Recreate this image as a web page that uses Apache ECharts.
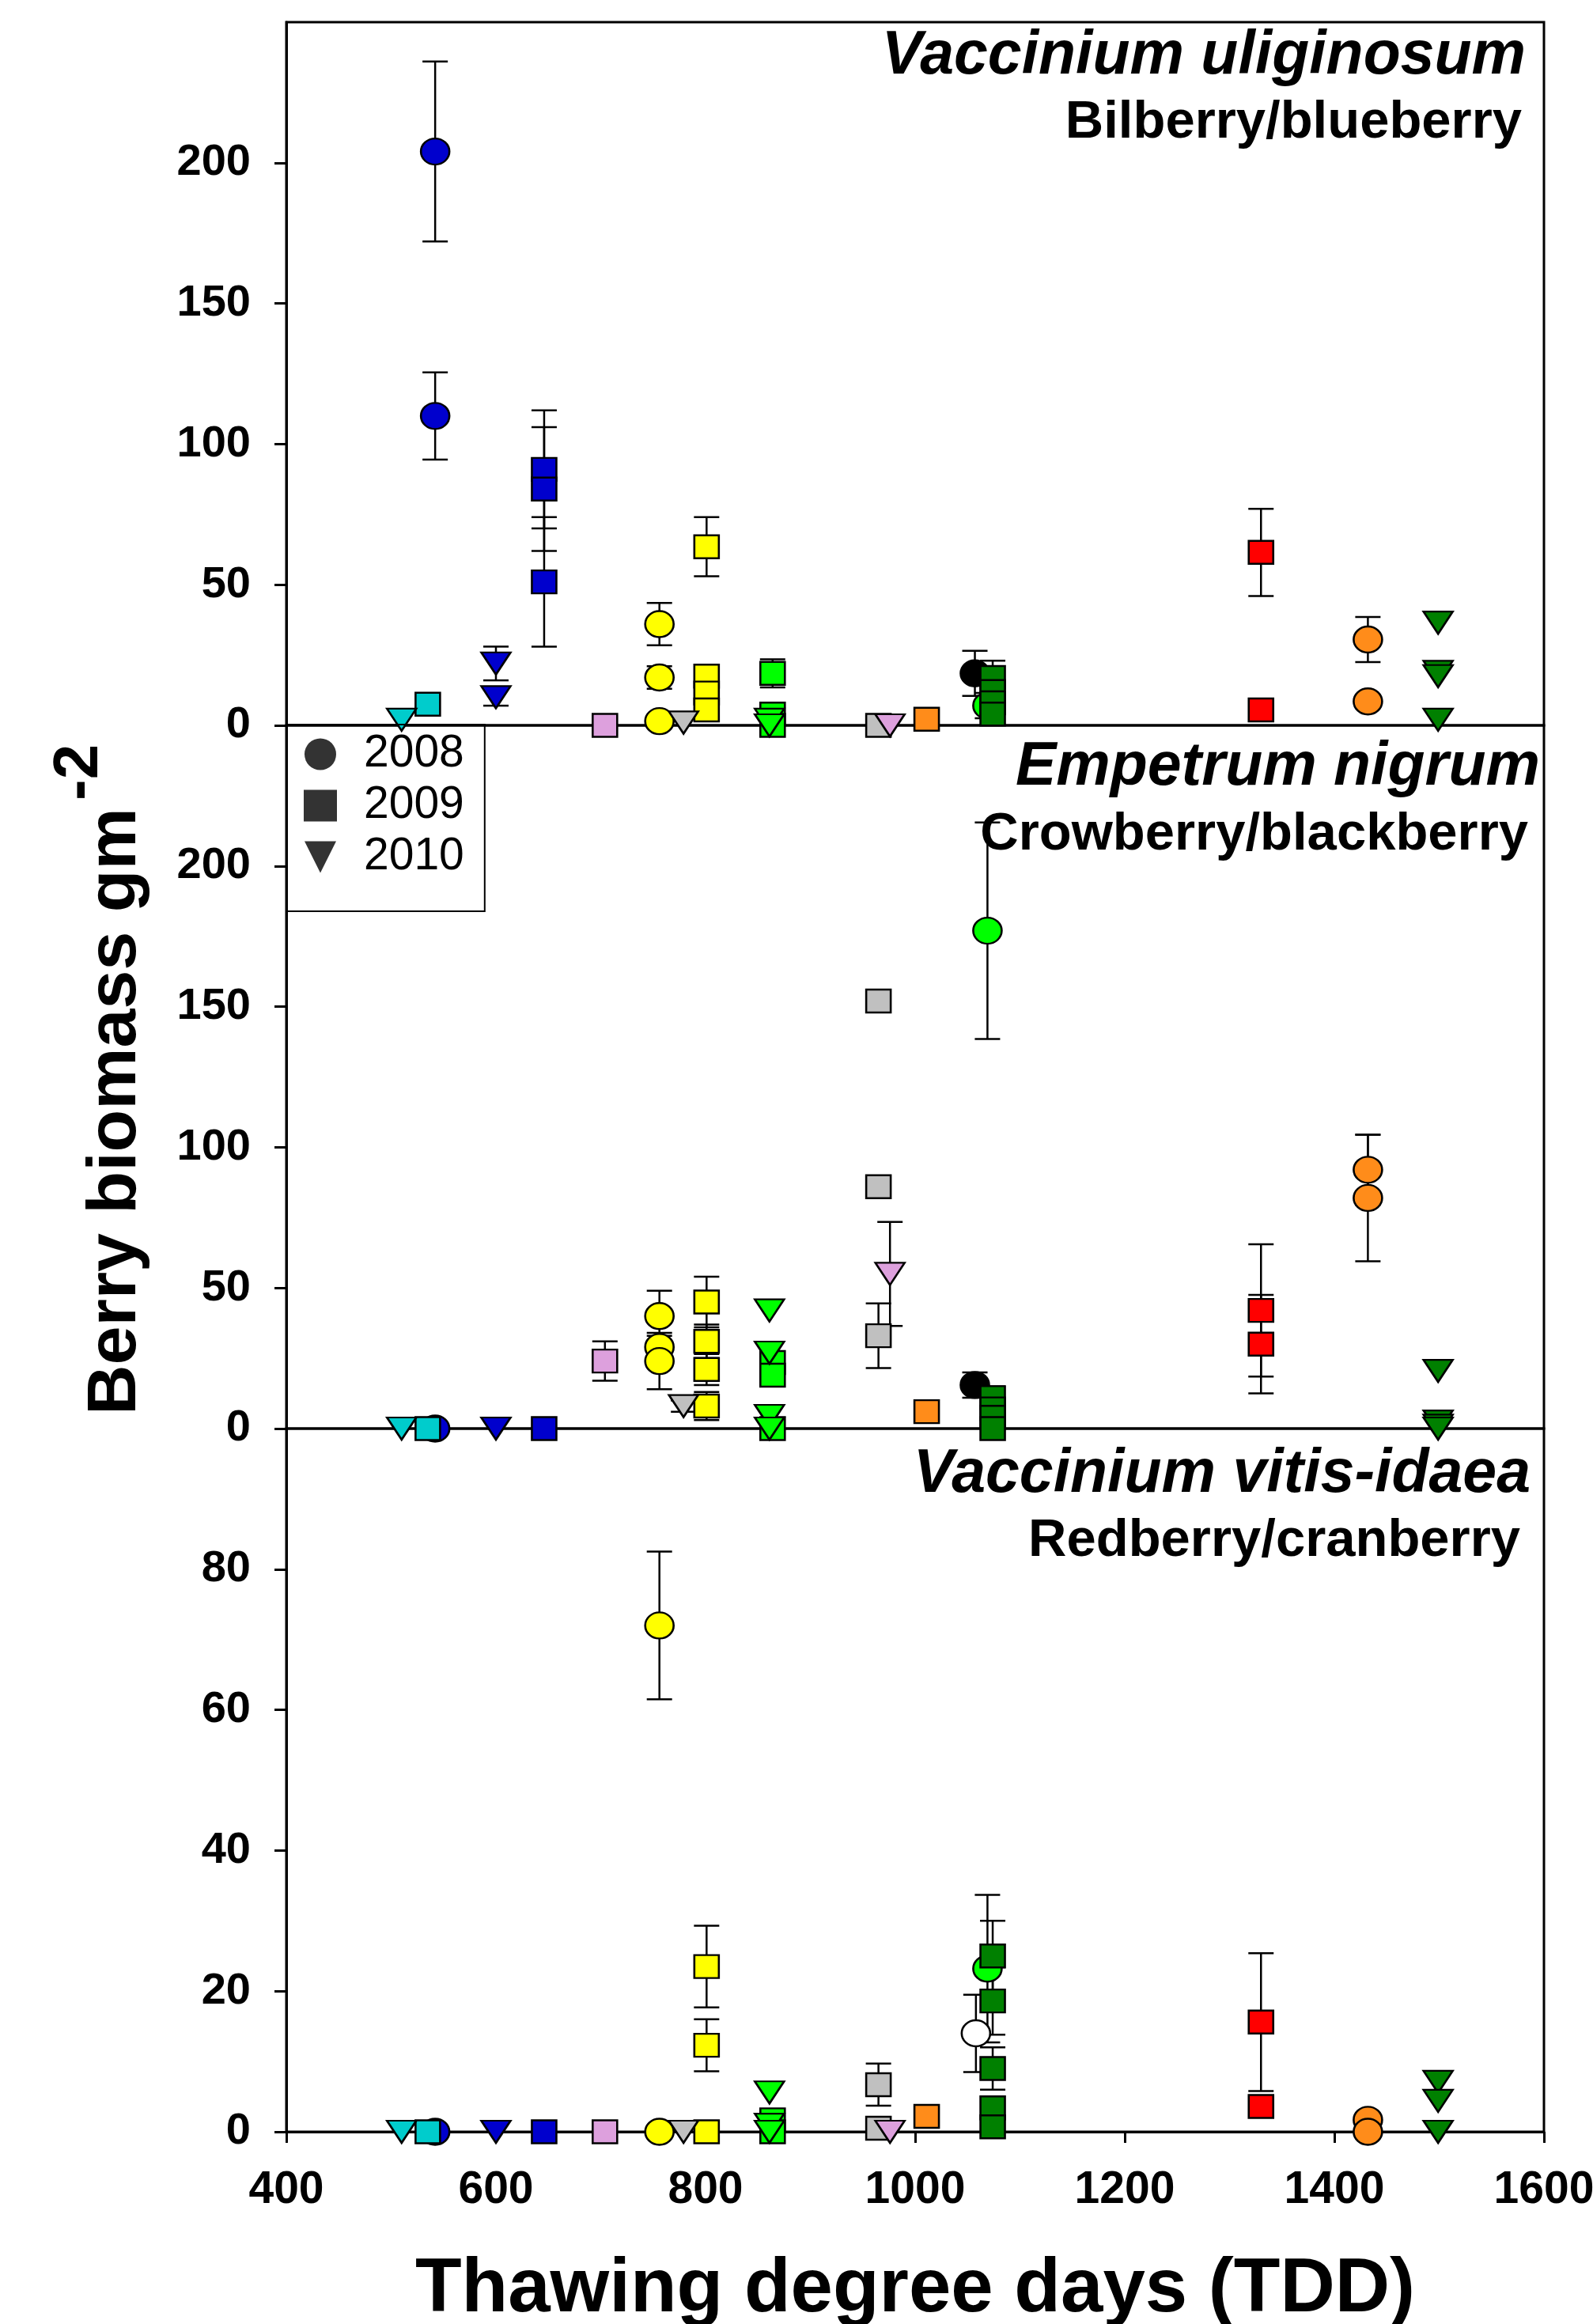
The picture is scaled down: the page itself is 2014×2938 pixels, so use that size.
<!DOCTYPE html>
<html>
<head>
<meta charset="utf-8">
<title>Berry biomass vs thawing degree days</title>
<script src="https://cdn.jsdelivr.net/npm/echarts@6.0.0/dist/echarts.min.js"></script>
<style>
  html, body { margin: 0; padding: 0; background: #fff; }
  #chart { width: 2014px; height: 2938px; }
</style>
</head>
<body>
<div id="chart"></div>
<script>
// tick labels
const xTicks = [400, 600, 800, 1000, 1200, 1400, 1600];
const yTicksTop = [0, 50, 100, 150, 200];
const yTicksMid = [0, 50, 100, 150, 200];
const yTicksBot = [0, 20, 40, 60, 80];
const years = [2008, 2009, 2010];

const speciesNames = ['Vaccinium uliginosum', 'Empetrum nigrum', 'Vaccinium vitis-idaea'];
const commonNames = ['Bilberry/blueberry', 'Crowberry/blackberry', 'Redberry/cranberry'];

// rows: [TDD, berry biomass g m-2, SE, year, site]
const uliginosum = [
  [510, 2, 0, 2010, 'cyan'],
  [535, 7.5, 0, 2009, 'cyan'],
  [542, 204, 32, 2008, 'blue'],
  [542, 110, 15.5, 2008, 'blue'],
  [600, 22, 6, 2010, 'blue'],
  [600, 10, 3, 2010, 'blue'],
  [646, 91, 21, 2009, 'blue'],
  [646, 84, 22, 2009, 'blue'],
  [646, 51, 23, 2009, 'blue'],
  [704, 0, 0, 2009, 'plum'],
  [756, 36, 7.5, 2008, 'yellow'],
  [756, 17, 4, 2008, 'yellow'],
  [756, 1.5, 0, 2008, 'yellow'],
  [779, 1, 0, 2010, 'gray'],
  [801, 63.5, 10.5, 2009, 'yellow'],
  [801, 17.5, 4, 2009, 'yellow'],
  [801, 11.5, 0, 2009, 'yellow'],
  [801, 5.5, 0, 2009, 'yellow'],
  [861, 2, 0, 2010, 'lime'],
  [861, 0, 0, 2010, 'lime'],
  [864, 18.5, 5, 2009, 'lime'],
  [864, 4, 0, 2009, 'lime'],
  [864, 0, 0, 2009, 'lime'],
  [965, 0, 0, 2009, 'gray'],
  [976, 0, 0, 2010, 'plum'],
  [1011, 2.2, 0, 2009, 'orange'],
  [1057, 18.5, 8, 2008, 'black'],
  [1069, 7, 4.5, 2008, 'lime'],
  [1074, 17, 6, 2009, 'dkgreen'],
  [1074, 12, 0, 2009, 'dkgreen'],
  [1074, 8, 0, 2009, 'dkgreen'],
  [1074, 4, 0, 2009, 'dkgreen'],
  [1330, 61.5, 15.5, 2009, 'red'],
  [1330, 5.5, 0, 2009, 'red'],
  [1432, 30.5, 8, 2008, 'orange'],
  [1432, 8.5, 0, 2008, 'orange'],
  [1499, 36.5, 0, 2010, 'dkgreen'],
  [1499, 19, 0, 2010, 'dkgreen'],
  [1499, 17.5, 0, 2010, 'dkgreen'],
  [1499, 2, 0, 2010, 'dkgreen']
];

const nigrum = [
  [510, 0, 0, 2010, 'cyan'],
  [535, 0, 0, 2009, 'cyan'],
  [542, 0, 0, 2008, 'blue'],
  [600, 0, 0, 2010, 'blue'],
  [646, 0, 0, 2009, 'blue'],
  [704, 24, 7, 2009, 'plum'],
  [756, 40, 9, 2008, 'yellow'],
  [756, 29, 4, 2008, 'yellow'],
  [756, 24, 10, 2008, 'yellow'],
  [779, 8, 2, 2010, 'gray'],
  [801, 45, 9, 2009, 'yellow'],
  [801, 31, 6, 2009, 'yellow'],
  [801, 21, 5.5, 2009, 'yellow'],
  [801, 8, 5, 2009, 'yellow'],
  [861, 42, 0, 2010, 'lime'],
  [861, 27, 0, 2010, 'lime'],
  [861, 4.5, 0, 2010, 'lime'],
  [861, 0, 0, 2010, 'lime'],
  [864, 23.5, 0, 2009, 'lime'],
  [864, 19, 0, 2009, 'lime'],
  [864, 0, 0, 2009, 'lime'],
  [965, 152, 0, 2009, 'gray'],
  [965, 86, 0, 2009, 'gray'],
  [965, 33, 11.5, 2009, 'gray'],
  [976, 55, 18.5, 2010, 'plum'],
  [1011, 6, 0, 2009, 'orange'],
  [1057, 15.5, 4.5, 2008, 'black'],
  [1069, 177, 38.5, 2008, 'lime'],
  [1074, 11, 4, 2009, 'dkgreen'],
  [1074, 7, 0, 2009, 'dkgreen'],
  [1074, 4, 0, 2009, 'dkgreen'],
  [1074, 0, 0, 2009, 'dkgreen'],
  [1330, 42, 23.5, 2009, 'red'],
  [1330, 30, 17.5, 2009, 'red'],
  [1432, 92, 12.5, 2008, 'orange'],
  [1432, 82, 22.5, 2008, 'orange'],
  [1499, 20.5, 0, 2010, 'dkgreen'],
  [1499, 2.5, 0, 2010, 'dkgreen'],
  [1499, 1, 0, 2010, 'dkgreen'],
  [1499, 0, 0, 2010, 'dkgreen']
];

const vitisIdaea = [
  [510, 0, 0, 2010, 'cyan'],
  [535, 0, 0, 2009, 'cyan'],
  [542, 0, 0, 2008, 'blue'],
  [600, 0, 0, 2010, 'blue'],
  [646, 0, 0, 2009, 'blue'],
  [704, 0, 0, 2009, 'plum'],
  [756, 72, 10.5, 2008, 'yellow'],
  [756, 0, 0, 2008, 'yellow'],
  [779, 0, 0, 2010, 'gray'],
  [801, 23.5, 5.8, 2009, 'yellow'],
  [801, 12.3, 3.7, 2009, 'yellow'],
  [801, 0, 0, 2009, 'yellow'],
  [861, 5.6, 0, 2010, 'lime'],
  [861, 1, 0, 2010, 'lime'],
  [861, 0, 0, 2010, 'lime'],
  [864, 1.7, 0, 2009, 'lime'],
  [864, 0, 0, 2009, 'lime'],
  [965, 6.7, 3, 2009, 'gray'],
  [965, 0.5, 0, 2009, 'gray'],
  [976, 0, 0, 2010, 'plum'],
  [1011, 2.2, 0, 2009, 'orange'],
  [1058, 14, 5.5, 2008, 'open'],
  [1069, 23.2, 10.5, 2008, 'lime'],
  [1074, 25, 5, 2009, 'dkgreen'],
  [1074, 18.6, 4.8, 2009, 'dkgreen'],
  [1074, 9, 3, 2009, 'dkgreen'],
  [1074, 3.4, 0, 2009, 'dkgreen'],
  [1074, 0.7, 0, 2009, 'dkgreen'],
  [1330, 15.6, 9.8, 2009, 'red'],
  [1330, 3.6, 0, 2009, 'red'],
  [1432, 1.7, 0, 2008, 'orange'],
  [1432, 0, 0, 2008, 'orange'],
  [1499, 7.1, 0, 2010, 'dkgreen'],
  [1499, 4.4, 0, 2010, 'dkgreen'],
  [1499, 0, 0, 2010, 'dkgreen']
];

const FONT = '"Liberation Sans", Arial, sans-serif';
const siteColors = {
  cyan: '#00cccc', blue: '#0000cd', plum: '#dda0dd', yellow: '#ffff00',
  gray: '#c0c0c0', lime: '#00ff00', black: '#000000', orange: '#ff8c1a',
  red: '#ff0000', dkgreen: '#008000', open: '#ffffff'
};
const yearSymbol = { 2008: 'circle', 2009: 'rect', 2010: 'triangle' };
const yearSize = { 2008: [36, 33], 2009: [31, 29], 2010: [37, 28] };
const legendIcon = { 2008: 'circle', 2009: 'rect', 2010: 'path://M0,0L10,0L5,10Z' };

const panels = [
  { rows: uliginosum, max: 250, ticks: yTicksTop },
  { rows: nigrum, max: 250, ticks: yTicksMid },
  { rows: vitisIdaea, max: 100, ticks: yTicksBot }
];

const panelTop = 28, panelH = 889;

function errorBar(params, api) {
  const x = api.value(0), m = api.value(1), e = api.value(2);
  const hi = api.coord([x, m + e]);
  const lo = api.coord([x, m - e]);
  const cw = 16;
  const st = { stroke: '#000', lineWidth: 2.5 };
  return {
    type: 'group',
    children: [
      { type: 'line', shape: { x1: hi[0], y1: hi[1], x2: lo[0], y2: lo[1] }, style: st },
      { type: 'line', shape: { x1: hi[0] - cw, y1: hi[1], x2: hi[0] + cw, y2: hi[1] }, style: st },
      { type: 'line', shape: { x1: lo[0] - cw, y1: lo[1], x2: lo[0] + cw, y2: lo[1] }, style: st }
    ]
  };
}

const grids = [], xAxes = [], yAxes = [], series = [];
panels.forEach((p, i) => {
  grids.push({
    left: 362, width: 1590, top: panelTop + i * panelH, height: panelH,
    show: true, borderColor: '#000', borderWidth: 3, backgroundColor: 'transparent',
    containLabel: false, outerBoundsMode: 'none'
  });
  const last = i === panels.length - 1;
  xAxes.push({
    type: 'value', gridIndex: i, min: 400, max: 1600, interval: 200,
    show: last,
    axisLine: { show: true, lineStyle: { color: '#000', width: 3 } },
    axisTick: { show: true, inside: false, length: 14, lineStyle: { color: '#000', width: 3 }, customValues: xTicks },
    axisLabel: {
      show: true, margin: 46, fontSize: 57, fontWeight: 'bold', fontFamily: FONT, color: '#000',
      customValues: xTicks, formatter: v => String(v)
    },
    splitLine: { show: false },
    name: last ? 'Thawing degree days (TDD)' : '',
    nameLocation: 'middle', nameGap: 153,
    nameTextStyle: { fontSize: 96, fontWeight: 'bold', fontFamily: FONT, color: '#000' }
  });
  yAxes.push({
    type: 'value', gridIndex: i, min: 0, max: p.max,
    axisLine: { show: true, lineStyle: { color: '#000', width: 3 } },
    axisTick: { show: true, inside: false, length: 15, lineStyle: { color: '#000', width: 3 }, customValues: p.ticks },
    axisLabel: {
      margin: 45, fontSize: 56, fontWeight: 'bold', fontFamily: FONT, color: '#000',
      customValues: p.ticks, formatter: v => String(v)
    },
    splitLine: { show: false }
  });

  series.push({
    type: 'custom', name: speciesNames[i] + ' SE', xAxisIndex: i, yAxisIndex: i, z: 1,
    silent: true, renderItem: errorBar,
    encode: { x: 0, y: 1 },
    data: p.rows.filter(r => r[2] > 0).map(r => [r[0], r[1], r[2]])
  });
  years.forEach(yr => {
    series.push({
      type: 'scatter', name: speciesNames[i] + ' ' + yr, xAxisIndex: i, yAxisIndex: i, z: 3,
      symbol: yearSymbol[yr], symbolSize: yearSize[yr], symbolRotate: yr === 2010 ? 180 : 0,
      itemStyle: { borderColor: '#000', borderWidth: 2.5, opacity: 1 },
      emphasis: { disabled: true },
      data: p.rows.filter(r => r[3] === yr).map(r => ({
        value: [r[0], r[1]], itemStyle: { color: siteColors[r[4]] }
      }))
    });
  });
});

// legend entries (year -> symbol)
years.forEach(yr => {
  series.push({
    type: 'scatter', name: String(yr), xAxisIndex: 0, yAxisIndex: 0, data: [],
    symbol: yearSymbol[yr], itemStyle: { color: '#000' }
  });
});

const graphic = [];
const titleX = [1929, 1947, 1935], titleY = [72, 971, 1865];
const subX = [1924, 1932, 1922], subY = [156, 1056, 1949];
speciesNames.forEach((s, i) => {
  graphic.push({
    type: 'text', x: titleX[i], y: titleY[i], z: 10,
    style: { text: s, font: 'italic bold 77px ' + FONT, fill: '#000', textAlign: 'right', textVerticalAlign: 'middle' }
  });
  graphic.push({
    type: 'text', x: subX[i], y: subY[i], z: 10,
    style: { text: commonNames[i], font: 'bold 67px ' + FONT, fill: '#000', textAlign: 'right', textVerticalAlign: 'middle' }
  });
});
// y axis title with superscript unit
graphic.push({
  type: 'text', x: 147, y: 1789, rotation: Math.PI / 2, z: 10,
  style: { text: 'Berry biomass gm', font: 'bold 88px ' + FONT, fill: '#000', textAlign: 'left', textVerticalAlign: 'middle' }
});
graphic.push({
  type: 'text', x: 101, y: 1012, rotation: Math.PI / 2, z: 10,
  style: { text: '-2', font: 'bold 80px ' + FONT, fill: '#000', textAlign: 'left', textVerticalAlign: 'middle' }
});

const chart = echarts.init(document.getElementById('chart'));
chart.setOption({
  animation: false,
  backgroundColor: '#fff',
  grid: grids,
  xAxis: xAxes,
  yAxis: yAxes,
  legend: {
    data: years.map(yr => ({ name: String(yr), icon: legendIcon[yr] })),
    orient: 'vertical', left: 363, top: 916,
    itemWidth: 42, itemHeight: 40, itemGap: 8,
    padding: [9, 26, 40, 21], borderColor: '#000', borderWidth: 2,
    selectedMode: false,
    textStyle: { fontSize: 57, fontFamily: FONT, color: '#000', padding: [0, 0, 0, 29] }
  },
  graphic: graphic,
  series: series
});
</script>
</body>
</html>
